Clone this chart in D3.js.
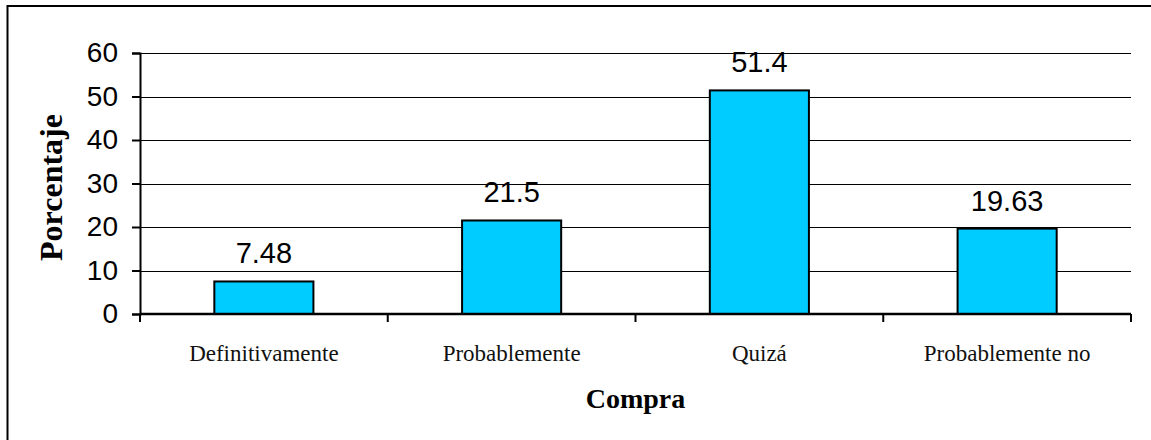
<!DOCTYPE html>
<html>
<head>
<meta charset="utf-8">
<script src="https://cdn.jsdelivr.net/npm/d3@7"></script>
<style>
  html, body { margin: 0; padding: 0; background: #fff; }
  svg { display: block; }
</style>
</head>
<body>
<svg id="chart" width="1151" height="440"></svg>
<script>
// Purchase intention survey results
const categories = ["Definitivamente", "Probablemente", "Quizá", "Probablemente no"];
const values = [7.48, 21.5, 51.4, 19.63];
const valueLabels = ["7.48", "21.5", "51.4", "19.63"];
const yTicks = [0, 10, 20, 30, 40, 50, 60];
const xTitle = "Compra";
const yTitle = "Porcentaje";

const svg = d3.select("#chart");
const plot = { left: 140, right: 1131, top: 53, bottom: 314 };

// Frame around the chart area (open to the right and bottom)
svg.append("rect")
  .attr("x", 7.5).attr("y", 6)
  .attr("width", 1160).attr("height", 460)
  .attr("fill", "none").attr("stroke", "#000").attr("stroke-width", 2);

const x = d3.scaleBand()
  .domain(categories)
  .range([plot.left, plot.right])
  .paddingInner(0.6)
  .paddingOuter(0.3);

const xCat = d3.scaleBand()
  .domain(categories)
  .range([plot.left, plot.right])
  .padding(0);

const y = d3.scaleLinear().domain([0, 60]).range([plot.bottom, plot.top]);

// Horizontal gridlines
svg.append("g")
  .selectAll("line")
  .data(yTicks.filter(d => d > 0))
  .join("line")
  .attr("x1", plot.left).attr("x2", plot.right)
  .attr("y1", d => Math.round(y(d)) + 0.5).attr("y2", d => Math.round(y(d)) + 0.5)
  .attr("stroke", "#000").attr("stroke-width", 1);

// Bars
svg.append("g")
  .selectAll("rect")
  .data(values)
  .join("rect")
  .attr("x", (d, i) => x(categories[i]))
  .attr("y", d => y(d))
  .attr("width", x.bandwidth())
  .attr("height", d => y(0) - y(d))
  .attr("fill", "#00CCFF")
  .attr("stroke", "#000")
  .attr("stroke-width", 2);

// Y axis
const yAxis = svg.append("g")
  .attr("transform", `translate(${plot.left},0)`)
  .call(d3.axisLeft(y).tickValues(yTicks).tickSize(8).tickPadding(14));
yAxis.select(".domain").attr("stroke-width", 2);
yAxis.selectAll(".tick line").attr("stroke-width", 2);
yAxis.selectAll(".tick text")
  .attr("font-family", "Liberation Sans, Arial, sans-serif")
  .attr("font-size", 28)
  .attr("fill", "#000");

// X axis: ticks on category boundaries
const xAxis = svg.append("g")
  .attr("transform", `translate(0,${plot.bottom})`);
xAxis.append("line")
  .attr("x1", plot.left).attr("x2", plot.right)
  .attr("y1", 0).attr("y2", 0)
  .attr("stroke", "#000").attr("stroke-width", 2.5);
const bounds = categories.map(c => xCat(c)).concat([plot.right]);
xAxis.selectAll("line.tk")
  .data(bounds)
  .join("line")
  .attr("class", "tk")
  .attr("x1", d => d).attr("x2", d => d)
  .attr("y1", 0).attr("y2", 8)
  .attr("stroke", "#000").attr("stroke-width", 2);
xAxis.selectAll("text")
  .data(categories)
  .join("text")
  .attr("x", d => xCat(d) + xCat.bandwidth() / 2)
  .attr("y", 47)
  .attr("text-anchor", "middle")
  .attr("font-family", "Liberation Serif, 'Times New Roman', serif")
  .attr("font-size", 23)
  .attr("fill", "#111")
  .text(d => d);

// Value labels above bars
svg.append("g")
  .selectAll("text")
  .data(values)
  .join("text")
  .attr("x", (d, i) => x(categories[i]) + x.bandwidth() / 2)
  .attr("y", d => y(d) - 18)
  .attr("text-anchor", "middle")
  .attr("font-family", "Liberation Sans, Arial, sans-serif")
  .attr("font-size", 29)
  .attr("fill", "#000")
  .text((d, i) => valueLabels[i]);

// Axis titles
svg.append("text")
  .attr("x", (plot.left + plot.right) / 2)
  .attr("y", 408)
  .attr("text-anchor", "middle")
  .attr("font-family", "Liberation Serif, 'Times New Roman', serif")
  .attr("font-weight", "bold")
  .attr("font-size", 28)
  .attr("fill", "#000")
  .text(xTitle);

svg.append("text")
  .attr("transform", `translate(62,${(plot.top + plot.bottom) / 2 + 4}) rotate(-90)`)
  .attr("text-anchor", "middle")
  .attr("font-family", "Liberation Serif, 'Times New Roman', serif")
  .attr("font-weight", "bold")
  .attr("font-size", 32)
  .attr("fill", "#000")
  .text(yTitle);
</script>
</body>
</html>
